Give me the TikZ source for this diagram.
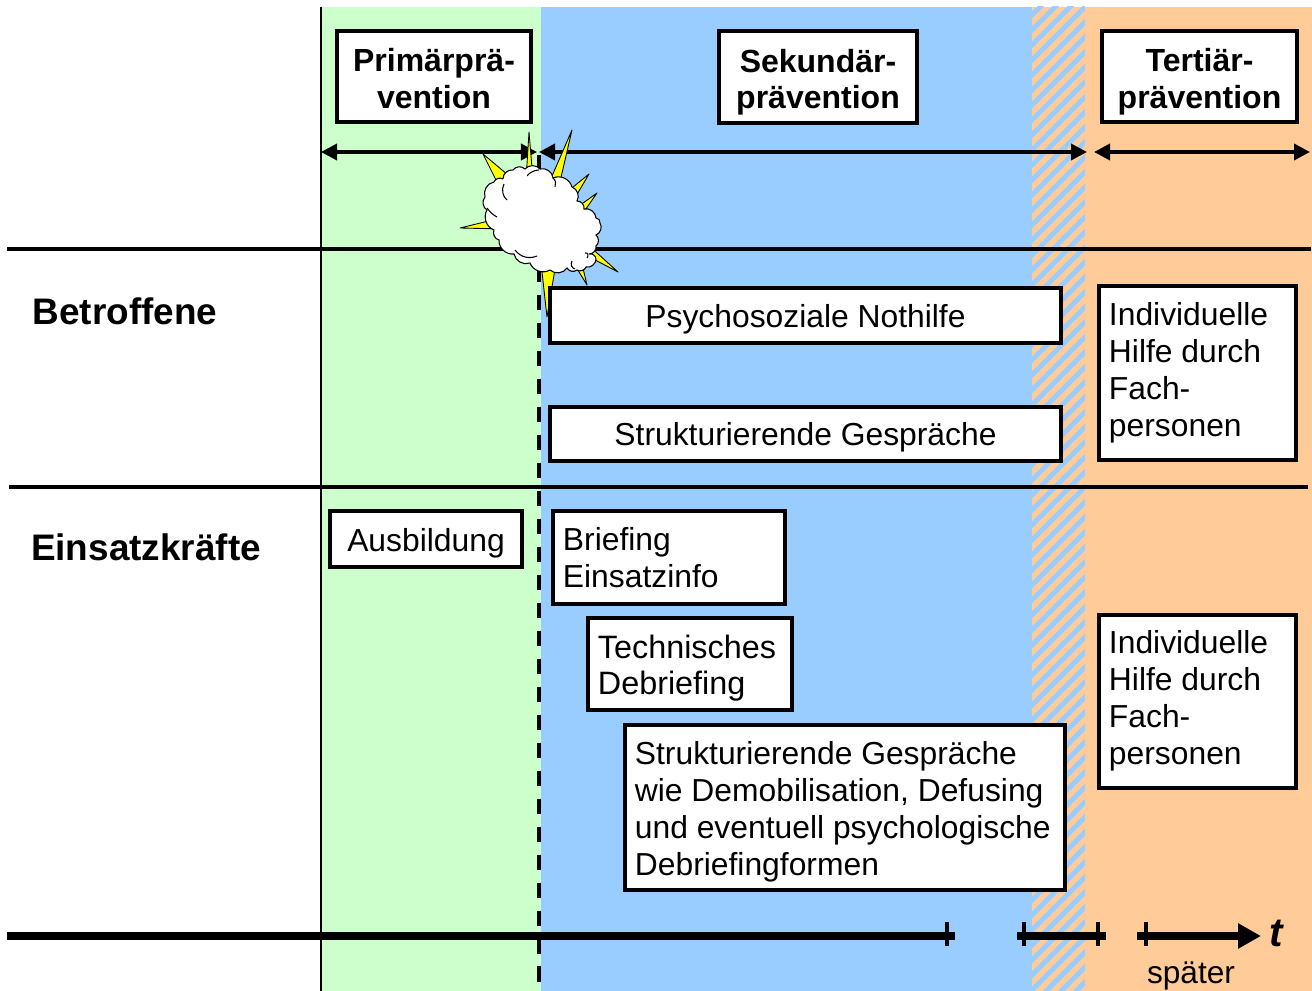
\documentclass[tikz,border=0pt]{standalone}
\usepackage{fontspec}
\setmainfont{Liberation Sans}
\usetikzlibrary{arrows.meta}
\definecolor{primgreen}{HTML}{CCFFCC}
\definecolor{sekblue}{HTML}{99CCFF}
\definecolor{tertorange}{HTML}{FFCC99}
\definecolor{burstyellow}{HTML}{FFFF00}
\tikzset{
	infobox/.style={draw,fill=white,line width=1pt,inner sep=0pt,text depth=0cm,
		font=\fontsize{9.05}{10.5}\selectfont},
	textbox/.style={infobox,align=flush left,text height=0cm},
	headbox/.style={draw,fill=white,line width=1pt,align=center,inner sep=0pt,text height=0.63cm,text depth=0cm,
		font=\fontsize{9.1}{10.3}\selectfont\bfseries},
	rowlabel/.style={font=\fontsize{10.5}{12}\selectfont\bfseries},
	rowline/.style={line width=1pt},
	spanarrow/.style={line width=1pt,{Triangle[length=1.6mm,width=1.6mm]}-{Triangle[length=1.6mm,width=1.6mm]}},
	timeline/.style={line width=2.3pt},
	timetick/.style={line width=1pt},
	spike/.style={draw,fill=burstyellow,line width=0.25pt,line join=round},
	puffline/.style={draw,line width=0.3pt}
}
\begin{document}
\begin{tikzpicture}[x=0.01cm,y=-0.01cm]
	\useasboundingbox (0,0) rectangle (1312,991);
	
	% phases
	\fill[primgreen](321,7) rectangle (541,991);
	\fill[sekblue](541,7) rectangle (1032,991);
	\fill[tertorange](1032,7) rectangle (1312,991);
	\begin{scope}
		\clip (1032,7) rectangle (1085,991);
		\foreach \hx in {1032,1047,...,2120}
			\draw[sekblue,line width=1.4pt](\hx,0)--(\hx-1000,1000);
	\end{scope}
	\draw[line width=0.5pt](321,7)--(321,991);
	
	% rows
	\coordinate (rowa-l) at (7,249);
	\coordinate (rowa-r) at (1311,249);
	\coordinate (rowb-l) at (9,487);
	\coordinate (rowb-r) at (1308,487);
	\draw[rowline](rowa-l)--(rowa-r);
	\draw[rowline](rowb-l)--(rowb-r);
	\node[rowlabel] (betroffene) at (125,311) {Betroffene};
	\node[rowlabel] (einsatz) at (146,547) {Einsatzkräfte};
	
	% event line
	\coordinate (event-t) at (539,154.7);
	\coordinate (event-b) at (539,991);
	\draw[line width=1.1pt,dash pattern=on 4.46pt off 3.5pt](event-t)--(event-b);
	
	% headers
	\node[headbox,minimum width=1.94cm,minimum height=0.91cm] (prim) at (434,76.5) {Primärprä-\\vention};
	\node[headbox,minimum width=1.98cm,minimum height=0.92cm] (sek) at (818,77) {Sekundär-\\prävention};
	\node[headbox,minimum width=1.95cm,minimum height=0.91cm] (tert) at (1199.5,76.5) {Tertiär-\\prävention};
	
	\coordinate (prim-l) at (321,152);
	\coordinate (prim-r) at (537,152);
	\coordinate (sek-l) at (539,152);
	\coordinate (sek-r) at (1087,152);
	\coordinate (tert-l) at (1094,152);
	\coordinate (tert-r) at (1310,152);
	\draw[spanarrow](prim-l)--(prim-r);
	\draw[spanarrow](sek-l)--(sek-r);
	\draw[spanarrow](tert-l)--(tert-r);
	
	% burst
	\draw[spike](526,180)--(529,132)--(533,180)--cycle;
	\draw[spike](549,183)--(572,130)--(559,186)--cycle;
	\draw[spike](567,192)--(589,174)--(569,208)--cycle;
	\draw[spike](579,206)--(597,193)--(581,216)--cycle;
	\draw[spike](586,243)--(618,272)--(580,252)--cycle;
	\draw[spike](573,262)--(587,285)--(581,260)--cycle;
	\draw[spike](541,263)--(547,317)--(556,263)--cycle;
	\draw[spike](505,217)--(460,228)--(505,229)--cycle;
	\draw[spike](497,182)--(483,154)--(508,175)--cycle;
	\draw[puffline,fill=white,every to/.style={bend left=50}]
		(503,179) to (513,170) to (525,169) to (540,169) to (553,178) to (572,187)
		to (577,201) to (584,209) to (596,218) to (600,223) to (596,235) to (596,246)
		to (589,254) to (596,259) to (586,267) to (577,270) to (567,268) to (550,270)
		to (530,263) to (514,254) to (499,240) to (494,230) to (487,210) to (485,197)
		to (494,182) to (503,179);
	\draw[puffline](504,184) .. controls (501,190) and (503,197) .. (507,200);
	\draw[puffline](515,250) .. controls (521,258) and (530,259) .. (537,256);
	\draw[puffline](553,178) .. controls (556,180) and (556,184) .. (555,187);
	\draw[puffline](527,176) .. controls (530,172) and (535,170) .. (539,170);
	\draw[puffline](572,261) .. controls (570,265) and (572,268) .. (575,269);
	\draw[puffline](585,253) .. controls (588,252) and (589,256) .. (587,258);
	\draw[puffline](487,208) .. controls (490,212) and (493,215) .. (497,217);
	
	% boxes
	\node[infobox,minimum width=5.11cm,minimum height=0.55cm,text height=0.23cm] (nothilfe) at (805.5,315.5) {Psychosoziale Nothilfe};
	\node[infobox,minimum width=5.11cm,minimum height=0.54cm,text height=0.22cm] (gespraeche) at (805.5,434) {Strukturierende Gespräche};
	\node[textbox,minimum width=1.97cm,minimum height=1.74cm,text width=1.77cm,text depth=0.94cm] (hilfea) at (1197.5,373) {Individuelle\\Hilfe durch\\Fach-\\personen};
	\node[infobox,minimum width=1.92cm,minimum height=0.56cm,text height=0.24cm] (ausbildung) at (426,539) {Ausbildung};
	\node[textbox,minimum width=2.32cm,minimum height=0.93cm,text width=2.12cm,text depth=0.13cm] (briefing) at (669,557.5) {Briefing\\Einsatzinfo};
	\node[textbox,minimum width=2.04cm,minimum height=0.92cm,text width=1.84cm,text depth=0.12cm,font=\fontsize{9.2}{10.5}\selectfont] (technisch) at (690,664) {Technisches\\Debriefing};
	\node[textbox,minimum width=4.40cm,minimum height=1.65cm,text width=4.20cm,text depth=0.85cm] (demob) at (845,807.5) {Strukturierende Gespräche\\wie Demobilisation, Defusing\\und eventuell psychologische\\Debriefingformen};
	\node[textbox,minimum width=1.97cm,minimum height=1.73cm,text width=1.77cm,text depth=0.95cm] (hilfeb) at (1197.5,701.5) {Individuelle\\Hilfe durch\\Fach-\\personen};
	
	% time axis
	\coordinate (axa-l) at (7,936);
	\coordinate (axa-r) at (955,936);
	\coordinate (axb-l) at (1017,936);
	\coordinate (axb-r) at (1106,936);
	\coordinate (axc-l) at (1137,936);
	\coordinate (axc-r) at (1261,936);
	\draw[timeline](axa-l)--(axa-r);
	\draw[timeline](axb-l)--(axb-r);
	\draw[timeline,-{Triangle[length=2.3mm,width=2.4mm]}](axc-l)--(axc-r);
	\foreach \tx in {947,1024,1098,1146}
		\draw[timetick](\tx,922)--(\tx,946);
	\node[font=\fontsize{11.5}{12}\selectfont\bfseries\itshape] (tlabel) at (1276,933) {t};
	\node[font=\fontsize{9}{10}\selectfont] (spaeter) at (1191,976) {später};
	
\end{tikzpicture}
\end{document}
